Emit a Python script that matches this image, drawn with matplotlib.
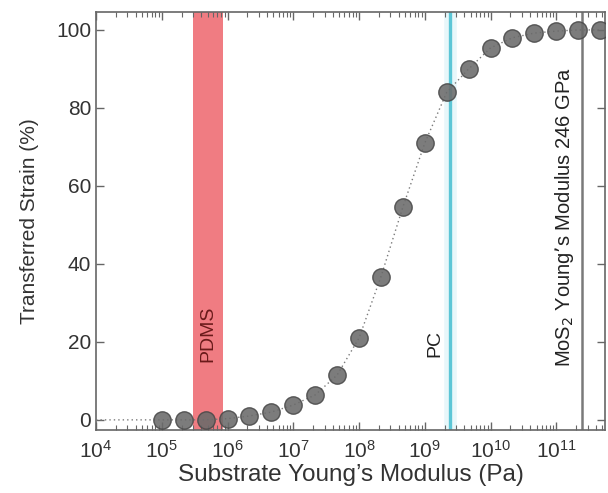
import numpy as np
import matplotlib
matplotlib.use("Agg")
import matplotlib.pyplot as plt
from matplotlib.ticker import LogLocator, FixedLocator, NullFormatter

plt.rcParams['font.family'] = ['Liberation Sans', 'DejaVu Sans']

# Data
exponents = [5.0, 5.333, 5.667, 6.0, 6.333, 6.667, 7.0, 7.333, 7.667, 8.0, 8.333,
             8.667, 9.0, 9.333, 9.667, 10.0, 10.333, 10.667, 11.0, 11.333, 11.667]
strain = [0.0, 0.0, 0.0, 0.3, 1.0, 2.0, 3.8, 6.4, 11.5, 21.0, 36.7,
          54.6, 71.0, 84.0, 90.0, 95.4, 98.0, 99.2, 99.7, 100.0, 100.0]
curve_start_exp = 4.0
curve_start_val = 0.0
pdms_range = (3.0e5, 8.5e5)
pc_modulus = 2.4e9
mos2_modulus = 2.46e11

modulus = [10 ** e for e in exponents]
curve_x = [10 ** curve_start_exp] + modulus
curve_y = [curve_start_val] + strain

W, H = 608, 493
fig = plt.figure(figsize=(W / 100, H / 100), dpi=100)
ax = fig.add_axes([96 / W, 1 - 430 / H, (605 - 96) / W, (430 - 12) / H])

ax.set_xscale('log')
ax.set_xlim(1e4, 10 ** 11.74)
ax.set_ylim(-2.6, 104.6)

# PDMS band
ax.axvspan(pdms_range[0], pdms_range[1], color='#f07c82', lw=0, zorder=1)
# PC line with halo
ax.axvline(pc_modulus, color='#e8f7fa', lw=9, zorder=1)
ax.axvline(pc_modulus, color='#5cc6d6', lw=2.4, zorder=2)
# MoS2 line
ax.axvline(mos2_modulus, color='#7a7a7a', lw=1.8, zorder=2)

# dotted curve + markers
ax.plot(curve_x, curve_y, ls=(0, (1, 2.2)), color='#7a7a7a', lw=1.0, zorder=3)
ax.plot(modulus, strain, 'o', ms=12.5, mfc='#6a6a6a', mec='#484848', mew=1.0,
        alpha=0.88, zorder=4)

# text annotations
ax.text(np.sqrt(pdms_range[0] * pdms_range[1]), 22, 'PDMS', rotation=90,
        ha='center', va='center', fontsize=14, color='#6a1a1a', zorder=5)
ax.text(10 ** 9.16, 19.7, 'PC', rotation=90, ha='center', va='center',
        fontsize=14, color='#222222', zorder=5)
ax.text(10 ** 11.13, 52, 'MoS$_2$ Young\u2019s Modulus 246 GPa', rotation=90,
        ha='center', va='center', fontsize=14.5, color='#222222', zorder=5)

# ticks
ax.set_yticks([0, 20, 40, 60, 80, 100])
ax.xaxis.set_major_locator(FixedLocator([10.0 ** k for k in range(4, 12)]))
ax.xaxis.set_minor_locator(LogLocator(base=10, subs=np.arange(2, 10), numticks=20))
ax.xaxis.set_minor_formatter(NullFormatter())
ax.set_xticklabels([r'$\mathregular{10^{%d}}$' % k for k in range(4, 12)])
ax.tick_params(axis='both', which='both', direction='in', top=True, right=True,
               colors='#666666', labelcolor='#333333', labelsize=15)
ax.tick_params(axis='both', which='major', length=6, width=1)
ax.tick_params(axis='x', which='minor', length=3.5, width=0.8)
ax.tick_params(axis='x', pad=7)
for s in ax.spines.values():
    s.set_color('#666666')
    s.set_linewidth(1.2)

ax.set_xlabel('Substrate Young\u2019s Modulus (Pa)', fontsize=17.5, color='#333333', labelpad=2)
ax.set_ylabel('Transferred Strain (%)', fontsize=15, color='#333333', labelpad=12)

fig.savefig('out.png', dpi=100)
